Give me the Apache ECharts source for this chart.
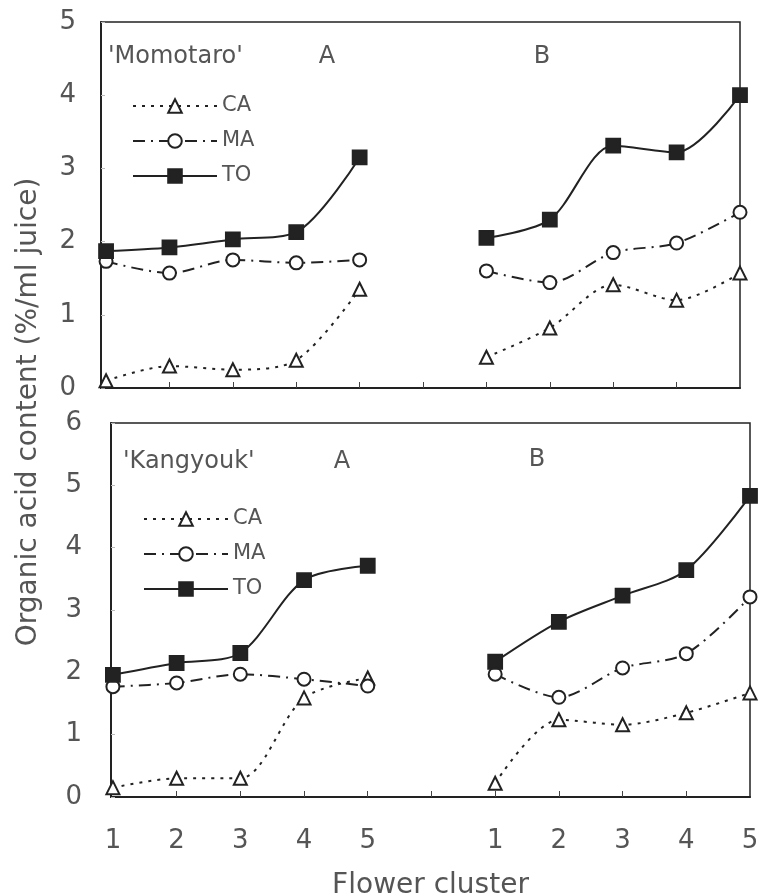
<!DOCTYPE html>
<html>
<head>
<meta charset="utf-8">
<script src="https://cdn.jsdelivr.net/npm/echarts@6/dist/echarts.min.js"></script>
<style>
html,body{margin:0;padding:0;background:#fff;}
#chart{width:761px;height:895px;}
</style>
</head>
<body>
<div id="chart"></div>
<script>
// Flower cluster positions: group A at 1..5, group B at 7..11 (labelled 1..5)
const xA = [1, 2, 3, 4, 5];
const xB = [7, 8, 9, 10, 11];
const tickValues = [2, 3, 4, 5, 6, 7, 8, 9, 10];
const labelValues = [1, 2, 3, 4, 5, 7, 8, 9, 10, 11];
const labelText = {1:'1',2:'2',3:'3',4:'4',5:'5',7:'1',8:'2',9:'3',10:'4',11:'5'};

// 'Momotaro'
const caA_M = [0.10, 0.30, 0.25, 0.38, 1.35];
const maA_M = [1.73, 1.57, 1.75, 1.71, 1.75];
const toA_M = [1.87, 1.92, 2.03, 2.13, 3.15];
const caB_M = [0.42, 0.82, 1.41, 1.20, 1.57];
const maB_M = [1.60, 1.44, 1.85, 1.98, 2.40];
const toB_M = [2.05, 2.30, 3.31, 3.22, 4.00];

// 'Kangyouk'
const caA_K = [0.15, 0.30, 0.30, 1.59, 1.91];
const maA_K = [1.77, 1.83, 1.97, 1.89, 1.78];
const toA_K = [1.96, 2.15, 2.31, 3.48, 3.71];
const caB_K = [0.22, 1.24, 1.16, 1.35, 1.67];
const maB_K = [1.97, 1.60, 2.07, 2.30, 3.21];
const toB_K = [2.17, 2.81, 3.23, 3.64, 4.83];

const FONT = "'DejaVu Sans', 'Liberation Sans', sans-serif";
const TXT = '#555';
const INK = '#222';

const styles = {
  CA: {symbol: 'emptyTriangle', symbolSize: 13, lineType: [3, 6]},
  MA: {symbol: 'emptyCircle', symbolSize: 13, lineType: [12, 6, 2, 6]},
  TO: {symbol: 'rect', symbolSize: 14, lineType: 'solid'}
};

function mk(name, xs, ys, g) {
  const s = styles[name];
  return {
    name: name,
    type: 'line',
    xAxisIndex: g, yAxisIndex: g,
    data: xs.map((x, i) => [x, ys[i]]),
    smooth: 0.3,
    symbol: s.symbol,
    symbolSize: s.symbolSize,
    showAllSymbol: true,
    lineStyle: {color: INK, width: 2, type: s.lineType},
    itemStyle: {color: INK, borderColor: INK, borderWidth: 1.8},
    emphasis: {disabled: true},
    silent: true,
    animation: false
  };
}

function xAxis(g, min, showLabels) {
  return {
    type: 'value', gridIndex: g, min: min, max: 11,
    axisLine: {show: true, lineStyle: {color: INK, width: 2}},
    axisTick: {show: true, inside: true, length: 6, customValues: tickValues, lineStyle: {color: '#444', width: 1}},
    axisLabel: showLabels ? {
      show: true, customValues: labelValues, margin: 31,
      formatter: v => labelText[v] || '',
      fontSize: 26, fontFamily: FONT, color: TXT,
      showMinLabel: true, showMaxLabel: true
    } : {show: false},
    splitLine: {show: false},
    name: showLabels ? 'Flower cluster' : '',
    nameLocation: 'middle',
    nameGap: 75,
    nameTextStyle: {fontSize: 28, fontFamily: FONT, color: TXT}
  };
}

function yAxis(g, max, margin) {
  return {
    type: 'value', gridIndex: g, min: 0, max: max, interval: 1,
    axisLine: {show: true, lineStyle: {color: INK, width: 2}},
    axisTick: {show: true, inside: true, length: 4, lineStyle: {color: '#bbb'}},
    axisLabel: {margin: margin, fontSize: 26, fontFamily: FONT, color: TXT},
    splitLine: {show: false}
  };
}

function legend(left, top) {
  return {
    orient: 'vertical', left: left, top: top,
    itemWidth: 84, itemHeight: 17, itemGap: 13,
    data: ['CA', 'MA', 'TO'],
    textStyle: {fontSize: 21, fontFamily: FONT, color: TXT, lineHeight: 22},
    selectedMode: false
  };
}

const chart = echarts.init(document.getElementById('chart'), null, {renderer: 'canvas'});
chart.setOption({
  animation: false,
  backgroundColor: '#fff',
  grid: [
    {left: 101, right: 21, top: 22, height: 366, show: true, borderColor: INK, borderWidth: 1.5, containLabel: false, outerBoundsMode: 'none'},
    {left: 111, right: 11, top: 423, height: 374, show: true, borderColor: INK, borderWidth: 1.5, containLabel: false, outerBoundsMode: 'none'}
  ],
  xAxis: [xAxis(0, 0.92, false), xAxis(1, 0.97, true)],
  yAxis: [yAxis(0, 5, 25), yAxis(1, 6, 29)],
  legend: [legend(127, 90), legend(138, 503)],
  graphic: [
    {type: 'text', x: 108, y: 57, style: {text: "'Momotaro'", font: '24px ' + FONT, fill: TXT, verticalAlign: 'middle'}},
    {type: 'text', x: 327, y: 57, style: {text: 'A', font: '24px ' + FONT, fill: TXT, align: 'center', verticalAlign: 'middle'}},
    {type: 'text', x: 542, y: 57, style: {text: 'B', font: '24px ' + FONT, fill: TXT, align: 'center', verticalAlign: 'middle'}},
    {type: 'text', x: 123, y: 462, style: {text: "'Kangyouk'", font: '24px ' + FONT, fill: TXT, verticalAlign: 'middle'}},
    {type: 'text', x: 342, y: 462, style: {text: 'A', font: '24px ' + FONT, fill: TXT, align: 'center', verticalAlign: 'middle'}},
    {type: 'text', x: 537, y: 460, style: {text: 'B', font: '24px ' + FONT, fill: TXT, align: 'center', verticalAlign: 'middle'}},
    {type: 'text', x: 29, y: 412, rotation: Math.PI / 2,
     style: {text: 'Organic acid content (%/ml juice)', font: '28px ' + FONT, fill: TXT, align: 'center', verticalAlign: 'middle'}}
  ],
  series: [
    mk('CA', xA, caA_M, 0), mk('MA', xA, maA_M, 0), mk('TO', xA, toA_M, 0),
    mk('CA', xB, caB_M, 0), mk('MA', xB, maB_M, 0), mk('TO', xB, toB_M, 0),
    mk('CA', xA, caA_K, 1), mk('MA', xA, maA_K, 1), mk('TO', xA, toA_K, 1),
    mk('CA', xB, caB_K, 1), mk('MA', xB, maB_K, 1), mk('TO', xB, toB_K, 1)
  ]
});
</script>
</body>
</html>
